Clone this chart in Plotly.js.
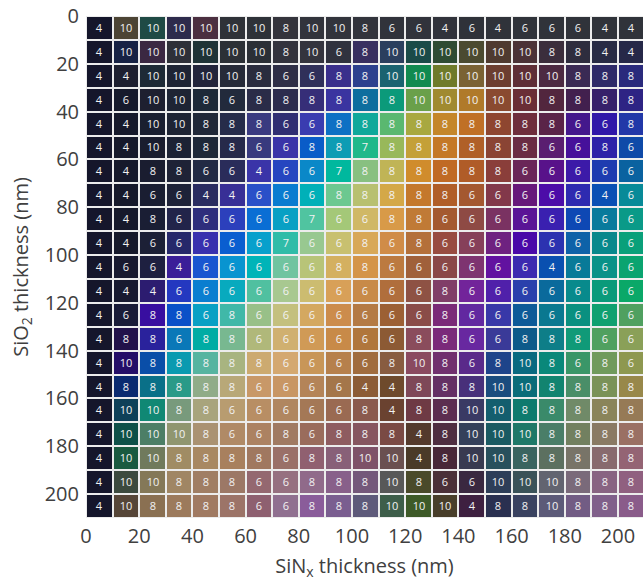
<!DOCTYPE html>
<html>
<head>
<meta charset="utf-8">
<script src="https://cdn.plot.ly/plotly-3.0.1.min.js"></script>
<style>html,body{margin:0;padding:0;background:#fff;}#chart{width:643px;height:583px;}</style>
</head>
<body>
<div id="chart"></div>
<script>
// SiNx thickness (nm), start of each column
var sinx = [0,10,20,30,40,50,60,70,80,90,100,110,120,130,140,150,160,170,180,190,200];
// SiO2 thickness (nm), start of each row
var sio2 = [0,10,20,30,40,50,60,70,80,90,100,110,120,130,140,150,160,170,180,190,200];
var xTicks = [0,20,40,60,80,100,120,140,160,180,200];
var yTicks = [0,20,40,60,80,100,120,140,160,180,200];

// number shown in each cell (rows = SiO2, columns = SiNx)
var counts = [
 [4,10,10,10,10,10,10,8,10,10,8,6,6,4,6,4,6,6,6,4,4],
 [4,10,10,10,10,10,10,8,10,6,8,10,10,10,10,10,10,8,8,4,4],
 [4,4,10,10,10,10,8,6,6,8,8,10,10,10,10,10,10,10,8,8,8],
 [4,6,10,10,8,6,8,8,8,8,8,8,10,10,10,10,10,8,8,8,8],
 [4,4,10,10,8,8,8,6,6,8,8,8,8,8,8,8,8,8,6,6,8],
 [4,4,10,8,8,8,6,6,8,8,7,8,8,8,8,8,8,6,6,8,6],
 [4,4,8,8,6,6,4,6,6,7,8,8,8,8,8,8,6,6,6,6,6],
 [4,4,6,6,4,4,6,6,6,8,8,8,8,8,6,6,6,6,6,4,6],
 [4,4,8,6,6,6,6,6,7,6,6,8,8,6,6,6,6,6,6,6,6],
 [4,4,6,6,6,6,6,7,6,6,8,6,8,6,6,6,6,6,6,6,6],
 [4,6,6,4,6,6,6,6,6,8,8,6,6,6,6,6,6,4,6,6,6],
 [4,4,4,6,6,6,6,6,6,6,6,6,6,8,6,6,6,6,6,6,6],
 [4,6,8,8,6,8,6,6,6,6,6,6,6,8,6,6,6,6,6,6,6],
 [4,8,8,6,8,8,6,6,6,6,6,6,8,8,6,6,8,8,8,6,6],
 [4,10,8,8,8,8,8,6,6,6,6,8,10,8,6,8,10,8,6,8,6],
 [4,8,8,8,8,8,6,6,6,6,4,4,8,8,8,10,10,8,8,8,8],
 [4,10,10,8,8,6,6,6,6,6,8,4,8,8,10,10,8,8,8,8,8],
 [4,10,10,10,8,6,6,8,6,8,8,8,4,8,10,10,10,8,8,8,8],
 [4,10,10,8,8,8,8,6,8,8,10,10,4,8,10,10,8,8,8,8,8],
 [4,10,10,8,8,8,6,6,8,8,8,10,8,6,6,10,10,10,8,8,8],
 [4,10,8,8,8,8,6,6,8,8,8,10,10,10,4,8,8,10,8,8,8]
];

// colour of each cell
var cellColors = [
 ['#15162b','#4c4434','#1f4a45','#2d2b4c','#4b2f40','#2f3238','#2e3238','#34343c','#32343c','#32343c','#32343c','#31333b','#31333b','#31333b','#2f3239','#30333a','#30333a','#30333a','#30333a','#30333a','#30333a'],
 ['#15162b','#172244','#3b2842','#2e3038','#1f3336','#2c3036','#2b2f36','#33333d','#34343e','#30323e','#382f60','#2b3f5e','#1b4b48','#2f4b33','#4b4a30','#4f3a30','#4b3237','#3b2e3c','#2e2d3e','#282b44','#262848'],
 ['#15162b','#1e2030','#1e2a36','#1e2434','#22243a','#262a38','#2a2c3e','#2e2e46','#30305a','#3a2f8c','#2c408e','#1a6270','#118a50','#6f7a2a','#7a6234','#6c3e30','#5e2e36','#4c2a42','#3a2a54','#2e2a68','#2a2a7c'],
 ['#15162b','#161a2c','#1e2030','#1e2434','#1e2a38','#222a3c','#2a2c48','#2c2c4e','#362e78','#3a34a0','#0e6e9e','#0b9a7a','#6aa04a','#a08a30','#b07a2a','#8a4a30','#6a2e36','#52263e','#42204e','#36206a','#2e2484'],
 ['#15162b','#16192b','#1a1f30','#1e2434','#202838','#262c4a','#3a3a80','#302e72','#3a3cb0','#0e70c4','#10a89a','#5ab870','#a8a840','#c4862a','#c07026','#8e4630','#6e2e3c','#5a2448','#44188c','#3018a8','#2238a8'],
 ['#15162b','#16192b','#1a1d2e','#1c2234','#1e2838','#262a4a','#383a7e','#3a34a8','#0a5cc8','#0e9cb4','#20b88a','#98b85a','#c4a038','#c47826','#b06028','#8a4434','#6a2c44','#5a1e70','#46109a','#2e22a8','#0f4aa8'],
 ['#15162b','#16192b','#1a1d30','#1e2236','#222a44','#2a2c5a','#3a34a8','#2646c0','#0a88c8','#00b89e','#88c080','#c0b456','#d08c2c','#c06a24','#b05c28','#8a3e3a','#6a2658','#58128a','#3c1aa8','#1e3cb0','#0a62a0'],
 ['#15162b','#16192b','#1a1e32','#1e2238','#2a2c60','#382f96','#2a50c8','#0a7cd0','#00b0b8','#6cc890','#b8c070','#d4a848','#c4782c','#b05e28','#a45830','#82384a','#66187a','#4c0ca8','#2e2ab0','#0a50b4','#088a98'],
 ['#15162b','#16192b','#1a1e34','#22244a','#2e2e7c','#2c40bc','#0a6ed4','#08a0c4','#50c4a0','#a4c878','#d0b866','#d89a48','#c07a36','#a45a30','#8e4a44','#7a3262','#5a1496','#3a20b0','#0e48b4','#087a9c','#0a9a88'],
 ['#15162b','#16192b','#1c2036','#26286a','#3830ae','#0a5ed0','#08a0cc','#30bca8','#98c890','#c8c070','#d8a858','#d08c48','#b4703a','#984c40','#86405a','#6e2280','#4a08a8','#2c32b0','#0e62a8','#08888c','#0aa07a'],
 ['#15162b','#181a30','#1e2040','#3a1e98','#1a56d0','#0894d0','#00b4b8','#70c4a0','#b8c478','#d4b060','#d49448','#bc7a40','#a0603a','#8a4848','#7e3470','#6212a0','#3c2ab0','#0a50b0','#087a98','#0a9288','#0aa470'],
 ['#15162b','#181a30','#2c1c70','#2438c0','#0a7ed0','#08aabe','#50c0a0','#a8c890','#ccbc70','#d8a058','#c88a48','#b06e3c','#8e5244','#803e68','#72249a','#5020aa','#2a40ac','#0a6a9c','#088a8c','#0a9a7a','#0aa868'],
 ['#15162b','#1a1c38','#380ea0','#0a50c8','#08a0c4','#40b8a8','#98c088','#c4c07e','#d4a860','#cc8c4c','#b47a44','#9c6034','#8a4c48','#7a2a78','#6228a0','#3838a8','#0e5a98','#0a7890','#0a9080','#10a070','#50a060'],
 ['#15162b','#22124a','#2a229c','#0a78b8','#00aca4','#78b890','#b0b87a','#d0b070','#d09a56','#c88a48','#b0763c','#8c5a34','#8a4c5c','#7a2a7a','#6828a0','#3a3a98','#0e5a8a','#0e7e88','#109a78','#50a060','#8aa058'],
 ['#15162b','#240e68','#0a4ea8','#0a9ab0','#56b4a0','#a8b480','#ccaa70','#d4a870','#c89658','#b6804c','#a06c3e','#885c40','#8a4a60','#70306e','#5a2a8a','#1e448a','#0a6a80','#0a887a','#3a9668','#709a5c','#8e9850'],
 ['#15162b','#0a2a70','#0a7088','#2a9a88','#90ac88','#b8a878','#c89868','#c89664','#b48458','#a4764a','#8c5c36','#6e4a2c','#7e4858','#643064','#48307a','#1a4c7e','#0a6c78','#128470','#4a8e68','#7a9258','#98884a'],
 ['#15162b','#0e4058','#108874','#789a7c','#a8a47c','#b89c70','#b88e64','#b08660','#a47856','#9a6a52','#8a5a4e','#6a4230','#6e3a44','#5c2e50','#3a3a64','#145e6e','#0e7a6e','#3a8a6a','#708a68','#8a845a','#967a56'],
 ['#15162b','#0e5048','#4c7e66','#909670','#aa9272','#b08a66','#ac8262','#a07a62','#9a6c5c','#8e5c60','#865660','#7a4a44','#543a2c','#4e2e40','#34405a','#1a5a62','#1e7868','#4a7e68','#728060','#8a7a64','#9a7064'],
 ['#15162b','#1a5a40','#707a5c','#a08c64','#a88862','#a8805e','#a07860','#9a7068','#906070','#886078','#7e5268','#6a5050','#4a3a28','#482838','#383a50','#28505c','#3a6460','#5c7060','#787468','#886a6e','#946474'],
 ['#15162b','#3c4a3e','#847858','#a08664','#a07e64','#9c7866','#946870','#967080','#906a8a','#88608a','#74587a','#585858','#4a4a2a','#4a3038','#3a2840','#2e3e58','#3a5258','#626470','#7a6a7a','#886482','#906080'],
 ['#15162b','#564638','#8a7052','#9c7a5c','#a07a62','#9c7468','#8e6070','#907090','#8a5c9a','#7a5e90','#5e5a7a','#3e5e4a','#3e5a28','#483e2a','#3e2040','#2a3050','#3a4260','#5c5a78','#725c84','#80608a','#8a5c8a']
];

var nR = sio2.length, nC = sinx.length;
var step = sinx[1] - sinx[0];
var xEdges = sinx.concat([sinx[nC-1] + step]);
var yEdges = sio2.concat([sio2[nR-1] + step]);

// each cell gets an index; the colour scale maps each index to its colour
var zIdx = [], flat = [];
for (var r = 0; r < nR; r++) {
  var row = [];
  for (var c = 0; c < nC; c++) { row.push(flat.length); flat.push(cellColors[r][c]); }
  zIdx.push(row);
}
var n = flat.length;
var cscale = flat.map(function (col, i) { return [i / (n - 1), col]; });

var trace = {
  type: 'heatmap',
  x: xEdges,
  y: yEdges,
  z: zIdx,
  zmin: 0, zmax: n - 1,
  colorscale: cscale,
  showscale: false,
  xgap: 2, ygap: 2,
  text: counts,
  texttemplate: '%{text}',
  textfont: {family: 'Open Sans, sans-serif', size: 11, color: '#f2f2f2'},
  hoverinfo: 'skip'
};

var axisFont = {family: 'Open Sans, sans-serif', size: 20, color: '#404040'};
var titleFont = {family: 'Open Sans, sans-serif', size: 20, color: '#404040'};
var layout = {
  width: 643, height: 583,
  margin: {l: 86, r: 0, t: 16, b: 65},
  paper_bgcolor: '#ffffff',
  plot_bgcolor: '#ececec',
  showlegend: false,
  xaxis: {
    range: [0, 209.4], tickvals: xTicks, ticktext: xTicks.map(String),
    showgrid: false, zeroline: false, showline: false, ticks: '',
    tickfont: axisFont, ticklabelstandoff: 4,
    title: {text: 'SiN<sub>x</sub> thickness (nm)', font: titleFont, standoff: 10}
  },
  yaxis: {
    range: [210, 0], tickvals: yTicks, ticktext: yTicks.map(String),
    showgrid: false, zeroline: false, showline: false, ticks: '',
    tickfont: axisFont, ticklabelstandoff: 6,
    title: {text: 'SiO<sub>2</sub> thickness (nm)', font: titleFont, standoff: 10}
  }
};

Plotly.newPlot('chart', [trace], layout, {displayModeBar: false, staticPlot: true});
</script>
</body>
</html>
